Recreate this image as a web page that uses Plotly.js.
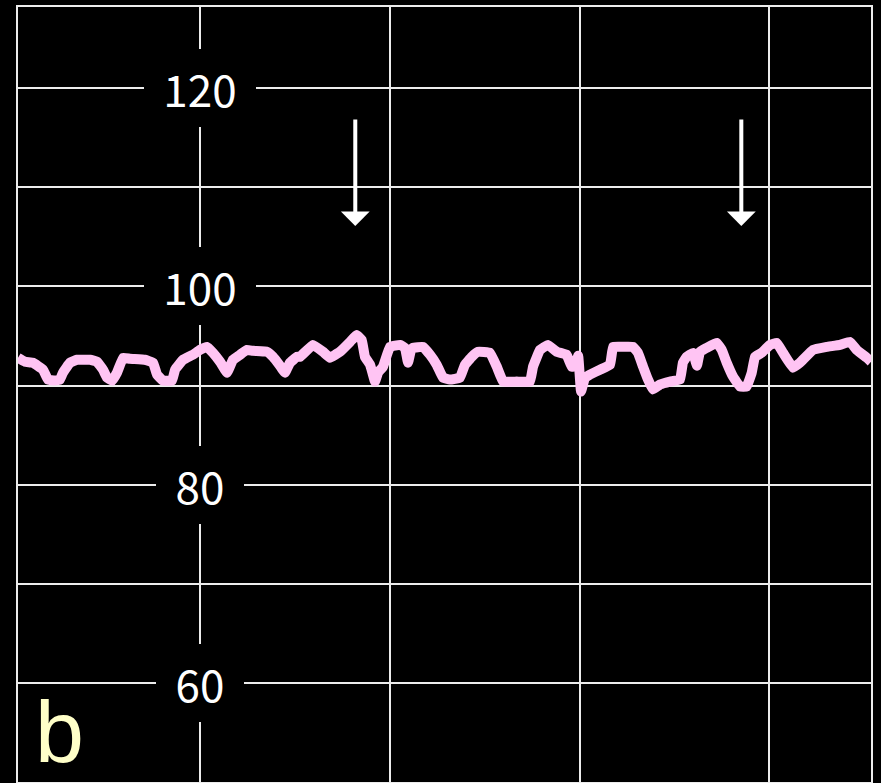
<!DOCTYPE html>
<html>
<head>
<meta charset="utf-8">
<script src="https://cdn.plot.ly/plotly-3.0.1.min.js"></script>
<style>
  html, body { margin: 0; padding: 0; background: #000; }
  #chart { width: 881px; height: 783px; }
</style>
</head>
<body>
<div id="chart"></div>
<script>
// Time (s) and pressure samples of the monitored trace
const timeSec = [
  0, 0.037, 0.079, 0.132, 0.158, 0.195, 0.221, 0.237, 0.274, 0.311,
  0.380, 0.416, 0.448, 0.469, 0.496, 0.522, 0.554, 0.590, 0.669, 0.712,
  0.733, 0.764, 0.812, 0.828, 0.870, 0.922, 0.959, 0.996, 1.028, 1.065,
  1.102, 1.133, 1.170, 1.207, 1.239, 1.313, 1.344, 1.381, 1.407, 1.434,
  1.471, 1.487, 1.555, 1.608, 1.645, 1.697, 1.750, 1.785, 1.812, 1.829,
  1.856, 1.882, 1.898, 1.924, 1.961, 2.014, 2.040, 2.056, 2.072, 2.082,
  2.135, 2.172, 2.207, 2.240, 2.277, 2.330, 2.356, 2.392, 2.425, 2.488,
  2.524, 2.557, 2.629, 2.699, 2.715, 2.752, 2.794, 2.840, 2.892, 2.919,
  2.937, 2.953, 2.968, 2.989, 3.015, 3.068, 3.121, 3.137, 3.189, 3.242,
  3.268, 3.295, 3.321, 3.347, 3.384, 3.437, 3.490, 3.505, 3.525, 3.558,
  3.579, 3.595, 3.630, 3.683, 3.710, 3.736, 3.769, 3.806, 3.841, 3.868,
  3.885, 3.920, 3.964, 4.000, 4.033, 4.085, 4.122, 4.191, 4.263, 4.333,
  4.386, 4.421, 4.474, 4.497
];
const pressure = [
  92.8, 92.4, 92.3, 91.6, 90.6, 90.5, 90.6, 91.3, 92.3, 92.6,
  92.6, 92.4, 91.6, 90.8, 90.5, 91.3, 92.8, 92.7, 92.6, 92.3,
  91.1, 90.5, 90.5, 91.6, 92.6, 93.1, 93.6, 93.9, 93.3, 92.4,
  91.3, 92.6, 93.1, 93.6, 93.5, 93.4, 92.9, 92.0, 91.3, 92.3,
  92.9, 92.9, 94.1, 93.4, 92.8, 93.4, 94.4, 95.1, 94.6, 92.9,
  92.1, 90.4, 91.3, 91.9, 93.9, 94.1, 93.8, 92.3, 93.6, 93.8,
  93.9, 93.1, 92.1, 90.8, 90.6, 90.8, 92.1, 92.9, 93.4, 93.3,
  91.9, 90.4, 90.4, 90.4, 91.9, 93.6, 94.1, 93.4, 93.1, 91.9,
  92.0, 93.0, 89.4, 90.8, 91.1, 91.6, 92.1, 93.9, 93.9, 93.9,
  93.3, 91.9, 90.6, 89.6, 90.1, 90.4, 90.6, 92.3, 92.9, 93.3,
  92.0, 93.4, 93.8, 94.3, 93.6, 92.3, 90.9, 89.9, 89.9, 91.3,
  92.9, 93.3, 94.1, 94.3, 93.3, 91.8, 92.3, 93.6, 93.9, 94.1,
  94.4, 93.6, 92.8, 92.4
];
// Scale labels written on the chart
const scaleTicks = [60, 80, 100, 120];
// Times of the two marked events
const eventTimes = [1.778, 3.813];
const panelLetter = 'b';

const gridColor = 'rgb(236,236,236)';
const labelFont = '"Noto Sans CJK JP", "Noto Sans", sans-serif';
const letterFont = '"Liberation Sans", Arial, sans-serif';
const firstGridTime = 0.96;
const arrowTipLevel = 106.1;

const trace = {
  x: timeSec,
  y: pressure,
  type: 'scatter',
  mode: 'lines',
  line: { color: '#ffc4f3', width: 10, shape: 'spline', smoothing: 0.25 },
  hoverinfo: 'skip'
};

const annotations = [];

// Scale values sit on the first vertical grid line, in black boxes that break the grid
scaleTicks.forEach(v => {
  annotations.push({
    x: firstGridTime, y: v, xref: 'x', yref: 'y',
    text: String(v), showarrow: false,
    font: { family: labelFont, size: 44, color: '#ffffff' },
    bgcolor: '#000000', borderwidth: 0, borderpad: 0,
    width: String(v).length > 2 ? 112 : 88, height: 78,
    xanchor: 'center', yanchor: 'middle'
  });
});

// Downward arrows marking the events
eventTimes.forEach(t => {
  annotations.push({
    x: t, y: arrowTipLevel, xref: 'x', yref: 'y',
    text: '', showarrow: true,
    ax: 0, ay: -108,
    arrowhead: 1, arrowsize: 1.2, arrowwidth: 4,
    arrowcolor: '#ffffff', standoff: 0
  });
});

// Panel letter in the lower-left corner
annotations.push({
  x: 0.018, y: 0, xref: 'paper', yref: 'paper',
  xanchor: 'left', yanchor: 'bottom', yshift: -1,
  text: panelLetter, showarrow: false,
  font: { family: letterFont, size: 88, color: '#ffffc8' }
});

const layout = {
  width: 881,
  height: 783,
  paper_bgcolor: '#000000',
  plot_bgcolor: '#000000',
  margin: { l: 18, r: 10, t: 7, b: 1 },
  showlegend: false,
  xaxis: {
    range: [0, 4.4966],
    tick0: firstGridTime, dtick: 1,
    showgrid: true, gridcolor: gridColor, gridwidth: 2,
    showticklabels: false, ticks: '',
    zeroline: false,
    showline: true, mirror: true, linecolor: gridColor, linewidth: 2
  },
  yaxis: {
    range: [50, 128.19],
    tick0: 0, dtick: 10,
    showgrid: true, gridcolor: gridColor, gridwidth: 2,
    showticklabels: false, ticks: '',
    zeroline: false,
    showline: true, mirror: true, linecolor: gridColor, linewidth: 2
  },
  annotations: annotations
};

Plotly.newPlot('chart', [trace], layout, { staticPlot: true, displayModeBar: false });
</script>
</body>
</html>
